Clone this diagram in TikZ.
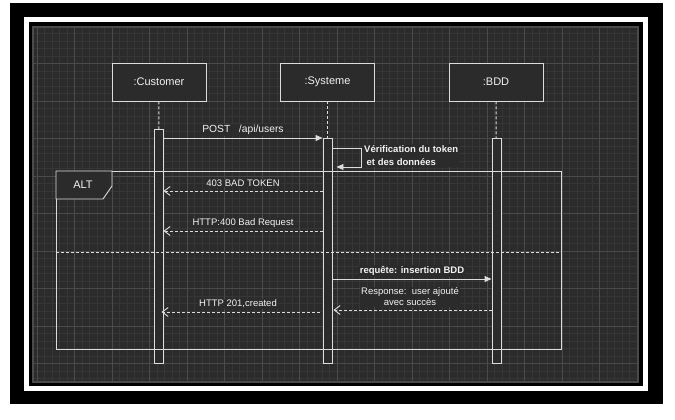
\documentclass[tikz,border=0pt]{standalone}
\usepackage{fontspec}
\setmainfont{Liberation Sans}
\usetikzlibrary{arrows.meta}
\definecolor{canvas}{HTML}{2B2B2B}
\definecolor{ink}{HTML}{DCDCDC}
\definecolor{txt}{HTML}{F2F2F2}
\definecolor{minorline}{HTML}{363636}
\definecolor{majorline}{HTML}{4A4A4A}
\begin{document}
\begin{tikzpicture}[x=1pt, y=-1pt,
    obj/.style={draw=ink, fill=canvas, line width=0.9pt, minimum width=94pt, minimum height=38pt, text=txt, font=\fontsize{11}{13}\selectfont},
    act/.style={draw=ink, fill=canvas, line width=0.9pt, minimum width=9pt, inner sep=0pt, anchor=north},
    life/.style={draw=ink, line width=0.9pt, dash pattern=on 3pt off 2pt},
    call/.style={draw=ink, line width=0.9pt, -{Triangle[length=7pt,width=6pt]}},
    reply/.style={draw=ink, line width=0.9pt, dash pattern=on 3pt off 2pt, -{Straight Barb[length=6pt,width=9pt]}},
    msg/.style={text=txt, fill=canvas, inner sep=1pt, font=\fontsize{10.3}{13}\selectfont},
    boldmsg/.style={msg, font=\bfseries\fontsize{9.5}{13}\selectfont},
    note/.style={msg, font=\fontsize{9.5}{11}\selectfont},
    minorgrid/.style={draw=minorline, line width=0.5pt},
    majorgrid/.style={draw=majorline, line width=0.8pt}]
    \useasboundingbox (0,0) rectangle (675,420);

    \fill[black] (10,3) rectangle (663,404);
    \draw[white, line width=5pt] (26.5,19.5) rectangle (645.5,388.5);
    \fill[canvas] (33,27) rectangle (638,382);
    \begin{scope}
        \clip (33,27) rectangle (638,382);
        \foreach \gx in {29.5,37,...,640} \draw[minorgrid] (\gx,27) -- (\gx,382);
        \foreach \gy in {26,33.5,...,384} \draw[minorgrid] (33,\gy) -- (638,\gy);
        \foreach \gx in {37,74.5,...,640} \draw[majorgrid] (\gx,27) -- (\gx,382);
        \foreach \gy in {26,63.5,...,384} \draw[majorgrid] (33,\gy) -- (638,\gy);
    \end{scope}
    \draw[draw=majorline, line width=1.5pt] (33,27) rectangle (638,382);

    \node[obj] (cust) at (159,82) {:Customer};
    \node[obj] (sys) at (327.5,82) {:Systeme};
    \node[obj] (bdd) at (496,82) {:BDD};

    \node[act, minimum height=234pt] (custact) at (158.5,129) {};
    \node[act, minimum height=225pt] (sysact) at (327.5,138) {};
    \node[act, minimum height=225pt] (bddact) at (496.5,138) {};

    \draw[life] (cust) -- (custact);
    \draw[life] (sys) -- (sysact);
    \draw[life] (bdd) -- (bddact);

    \draw[call] (custact.east |- 0,138) -- (sysact.west |- 0,138);
    \node[msg] (post) at (243,130) {POST\ \ \ /api/users};

    \draw[call] (sysact.east |- 0,148) -- (361,148) -- (361,167) -- ([xshift=4pt]sysact.east |- 0,167);
    \node[boldmsg, anchor=west, align=left] (verif) at (363,155.5) {Vérification du token\\\hspace{2.5pt}et des données};

    \node[draw=ink, line width=0.9pt, minimum width=505pt, minimum height=178pt, anchor=north west] (alt) at (56,171) {};
    \draw[draw=ink, fill=canvas, line width=0.9pt] (alt.north west) -- ++(56,0) -- ++(0,15) -- ++(-9,13) -- ++(-47,0) -- cycle;
    \node[text=txt, font=\fontsize{11}{13}\selectfont] (altlabel) at (83,184.5) {ALT};

    \draw[reply] (sysact.west |- 0,191) -- (custact.east |- 0,191);
    \node[note] (badtoken) at (243,183) {403 BAD TOKEN};

    \draw[reply] (sysact.west |- 0,231) -- (custact.east |- 0,231);
    \node[note] (badreq) at (243,223) {HTTP:400 Bad Request};

    \draw[draw=ink, line width=0.9pt, dash pattern=on 3pt off 2pt] (alt.west |- 0,252) -- (alt.east |- 0,252);

    \draw[call] (sysact.east |- 0,279) -- (bddact.west |- 0,279);
    \node[boldmsg] (insert) at (412,271) {requête: insertion BDD};

    \draw[reply] (bddact.west |- 0,310) -- ([xshift=1pt]sysact.east |- 0,310);
    \node[note, align=center] (resp) at (410,297) {Response:\ \ user ajouté\\avec succès};

    \draw[reply] ([xshift=-3pt]sysact.west |- 0,312) -- ([xshift=-2pt]custact.east |- 0,312);
    \node[note] (created) at (238,304) {HTTP 201,created};
\end{tikzpicture}
\end{document}
